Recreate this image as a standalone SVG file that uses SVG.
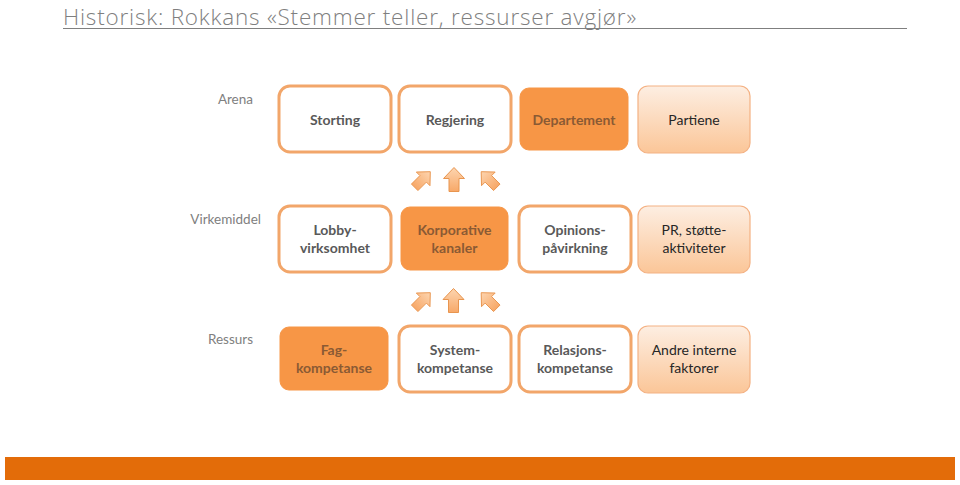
<svg xmlns="http://www.w3.org/2000/svg" width="960" height="485" viewBox="0 0 960 485">
<style>
.title{font-family:"Open Sans","Liberation Sans",sans-serif;font-weight:300;font-size:22.5px;letter-spacing:0.8px;fill:#7f7f7f}
.lbl{font-family:Lato,"Liberation Sans",sans-serif;font-size:13.5px;fill:#808080;text-anchor:end}
.t{font-family:Lato,"Liberation Sans",sans-serif;font-size:14px;font-weight:bold;fill:#595959;text-anchor:middle}
.tf{font-family:Lato,"Liberation Sans",sans-serif;font-size:14px;font-weight:bold;fill:#8a5a34;text-anchor:middle}
.tl{font-family:Lato,"Liberation Sans",sans-serif;font-size:14px;fill:#262626;text-anchor:middle}
.out{fill:#ffffff;stroke:#f2a66a;stroke-width:3}
.fill{fill:#f79646;stroke:#f79646;stroke-width:1}
.light{fill:url(#lg);stroke:#f4b183;stroke-width:1.2}
.arr{fill:url(#ag);stroke:#e8954f;stroke-width:1}
</style>
<defs>
<linearGradient id="lg" x1="0" y1="0" x2="0" y2="1">
<stop offset="0" stop-color="#fdeee2"/>
<stop offset="1" stop-color="#fbc698"/>
</linearGradient>
<linearGradient id="ag" x1="0" y1="0" x2="0" y2="1">
<stop offset="0" stop-color="#fdd5b0"/>
<stop offset="1" stop-color="#f7a868"/>
</linearGradient>
<path id="up" d="M0,-12 L10.5,-1 L5,-1 L5,12 L-5,12 L-5,-1 L-10.5,-1 Z"/>
</defs>
<rect width="960" height="485" fill="#ffffff"/>
<text class="title" x="63" y="24.5">Historisk: Rokkans «Stemmer teller, ressurser avgjør»</text>
<line x1="63" y1="28.5" x2="907" y2="28.5" stroke="#7f7f7f" stroke-width="1.2"/>

<text class="lbl" x="253" y="104">Arena</text>
<text class="lbl" x="261" y="224">Virkemiddel</text>
<text class="lbl" x="253" y="344">Ressurs</text>

<g id="storting"><rect class="out" x="279" y="86" width="112" height="66" rx="11"/><text class="t" x="335" y="125">Storting</text></g>
<g id="regjering"><rect class="out" x="399" y="86" width="112" height="66" rx="11"/><text class="t" x="455" y="125">Regjering</text></g>
<g id="departement"><rect class="fill" x="520" y="88" width="108" height="62" rx="9"/><text class="tf" x="574" y="125">Departement</text></g>
<g id="partiene"><rect class="light" x="638" y="86" width="112" height="67" rx="10"/><text class="tl" x="694" y="125">Partiene</text></g>

<g id="lobby"><rect class="out" x="279" y="206" width="112" height="66" rx="11"/><text class="t" x="335" y="235">Lobby-</text><text class="t" x="335" y="253">virksomhet</text></g>
<g id="korporative"><rect class="fill" x="401" y="207" width="107" height="63" rx="9"/><text class="tf" x="454.5" y="235">Korporative</text><text class="tf" x="454.5" y="253">kanaler</text></g>
<g id="opinion"><rect class="out" x="519" y="206" width="112" height="66" rx="11"/><text class="t" x="575" y="235">Opinions-</text><text class="t" x="575" y="253">påvirkning</text></g>
<g id="pr"><rect class="light" x="638" y="206" width="112" height="67" rx="10"/><text class="tl" x="694" y="235">PR, støtte-</text><text class="tl" x="694" y="253">aktiviteter</text></g>

<g id="fag"><rect class="fill" x="280" y="327" width="108" height="63" rx="9"/><text class="tf" x="334" y="355">Fag-</text><text class="tf" x="334" y="373">kompetanse</text></g>
<g id="system"><rect class="out" x="399" y="326" width="112" height="66" rx="11"/><text class="t" x="455" y="355">System-</text><text class="t" x="455" y="373">kompetanse</text></g>
<g id="relasjon"><rect class="out" x="519" y="326" width="112" height="66" rx="11"/><text class="t" x="575" y="355">Relasjons-</text><text class="t" x="575" y="373">kompetanse</text></g>
<g id="andre"><rect class="light" x="638" y="326" width="112" height="67" rx="10"/><text class="tl" x="694" y="355">Andre interne</text><text class="tl" x="694" y="373">faktorer</text></g>

<g id="connectors">
<use href="#up" class="arr" transform="translate(422.5,179.5) rotate(45) scale(0.92)"/>
<use href="#up" class="arr" transform="translate(454,179.5)"/>
<use href="#up" class="arr" transform="translate(489,179.5) rotate(-45) scale(0.92)"/>
<use href="#up" class="arr" transform="translate(422.5,300.5) rotate(45) scale(0.92)"/>
<use href="#up" class="arr" transform="translate(453.5,300.5)"/>
<use href="#up" class="arr" transform="translate(489,300.5) rotate(-45) scale(0.92)"/>
</g>

<rect x="5" y="457" width="950" height="23" fill="#e36c09"/>
</svg>
